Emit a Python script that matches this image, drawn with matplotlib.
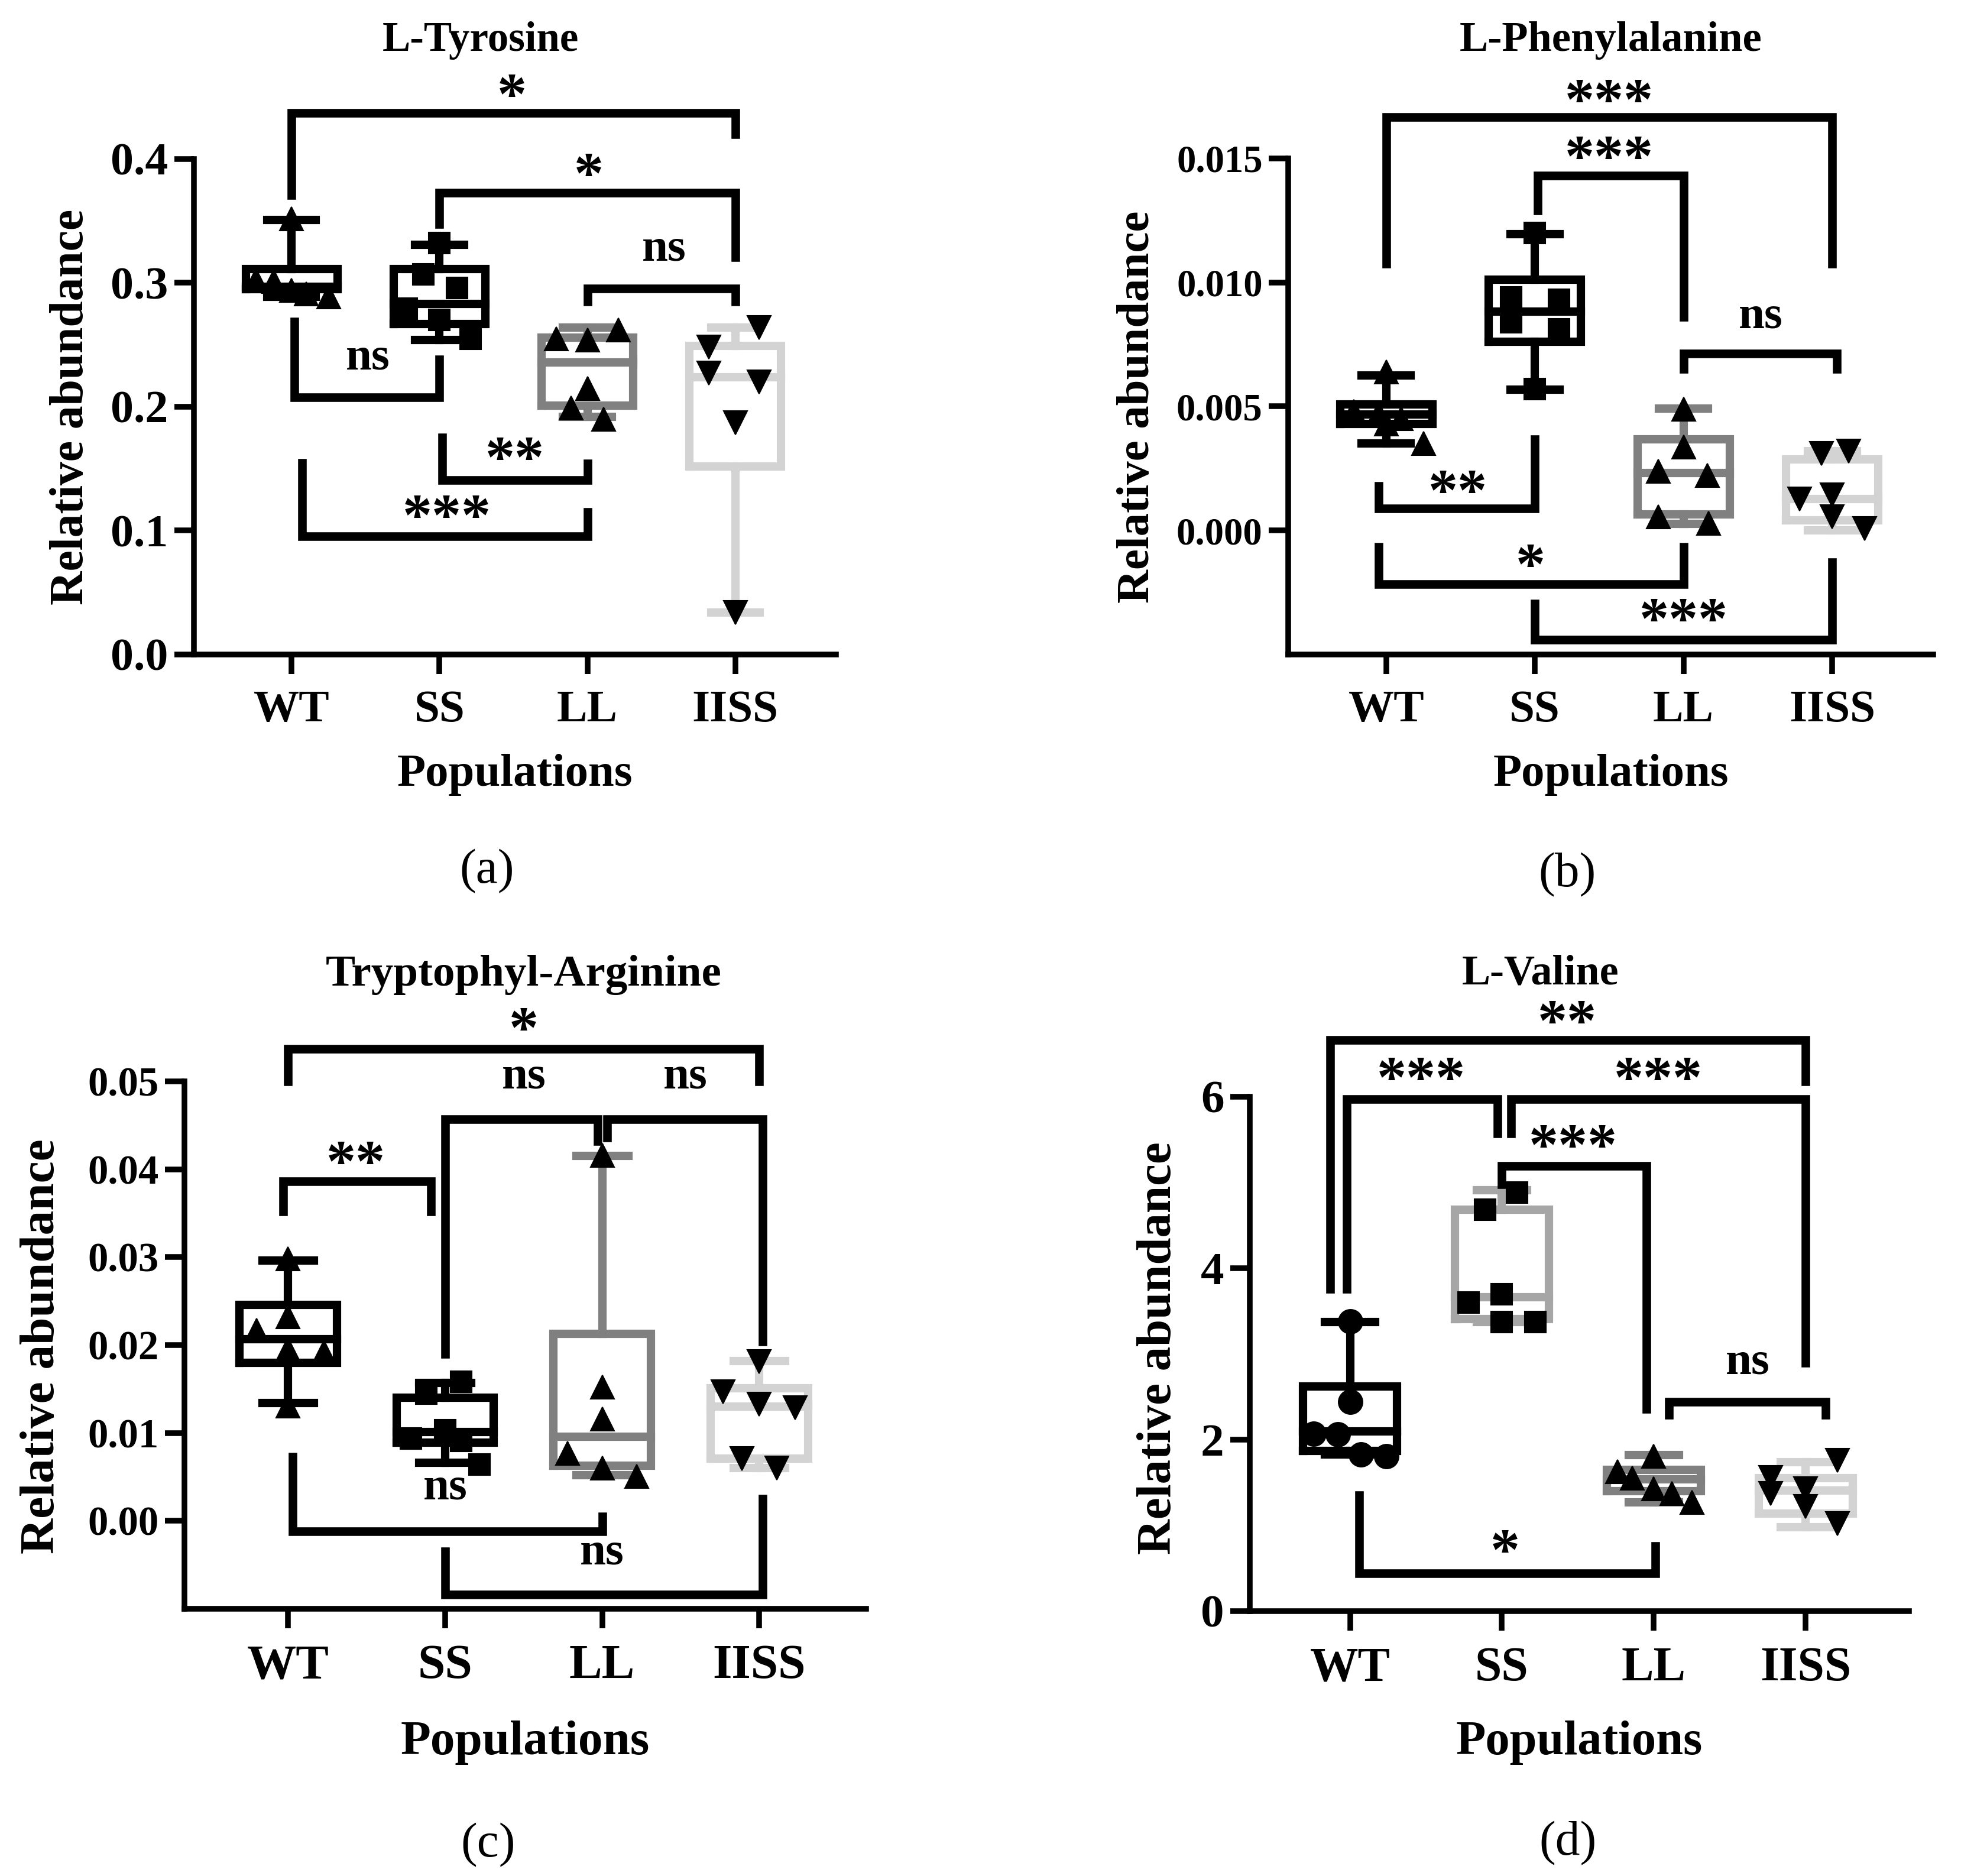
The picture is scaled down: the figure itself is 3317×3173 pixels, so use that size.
import numpy as np
import matplotlib
matplotlib.use("Agg")
import matplotlib.pyplot as plt
from matplotlib.transforms import offset_copy

# =========================
# Data
# =========================
groups = ["WT", "SS", "LL", "IISS"]

# (a) L-Tyrosine
tyr_pts = [
    [0.352, 0.302, 0.301, 0.294, 0.291, 0.289],
    [0.332, 0.307, 0.296, 0.279, 0.270, 0.255],
    [0.262, 0.255, 0.254, 0.215, 0.199, 0.190],
    [0.264, 0.248, 0.227, 0.220, 0.187, 0.034],
]
# min, q1, median, q3, max
tyr_box = [
    [0.289, 0.295, 0.297, 0.311, 0.351],
    [0.254, 0.267, 0.283, 0.311, 0.331],
    [0.192, 0.201, 0.236, 0.256, 0.264],
    [0.034, 0.152, 0.224, 0.249, 0.264],
]

# (b) L-Phenylalanine
phe_pts = [
    [0.0064, 0.0048, 0.0047, 0.0045, 0.0043, 0.0035],
    [0.0120, 0.0094, 0.0093, 0.0084, 0.0081, 0.0057],
    [0.0049, 0.00336, 0.0024, 0.00222, 0.00056, 0.0003],
    [0.0032, 0.0031, 0.00144, 0.00126, 0.00056, 0.00007],
]
phe_box = [
    [0.0035, 0.0043, 0.00468, 0.00508, 0.00626],
    [0.00568, 0.00762, 0.00883, 0.01011, 0.01195],
    [0.00026, 0.00065, 0.00231, 0.00368, 0.00491],
    [0.0, 0.00042, 0.00126, 0.00287, 0.0032],
]

# (c) Tryptophyl-Arginine
trp_pts = [
    [0.0298, 0.0232, 0.0217, 0.0195, 0.0192, 0.0131],
    [0.0158, 0.0145, 0.0103, 0.0094, 0.0091, 0.0064],
    [0.0416, 0.0152, 0.0116, 0.0077, 0.0060, 0.0051],
    [0.0181, 0.0147, 0.0133, 0.0129, 0.0071, 0.0060],
]
trp_box = [
    [0.0134, 0.0180, 0.0207, 0.0246, 0.0296],
    [0.0066, 0.0089, 0.0101, 0.0140, 0.0157],
    [0.0052, 0.0063, 0.0096, 0.0213, 0.0415],
    [0.0060, 0.0071, 0.0130, 0.0151, 0.0182],
]

# (d) L-Valine
val_pts = [
    [3.38, 2.44, 2.07, 2.06, 1.83, 1.81],
    [4.88, 4.68, 3.70, 3.60, 3.37, 3.37],
    [1.81, 1.63, 1.55, 1.43, 1.37, 1.27],
    [1.76, 1.56, 1.43, 1.37, 1.22, 1.02],
]
val_box = [
    [1.83, 1.87, 2.10, 2.62, 3.37],
    [3.37, 3.41, 3.66, 4.68, 4.91],
    [1.27, 1.40, 1.54, 1.65, 1.82],
    [0.98, 1.14, 1.41, 1.55, 1.74],
]

# significance brackets: x_left, x_right, y_bar, y_left_end, y_right_end, label, label_x, label_y
tyr_sig = [
    (0.00, 3.00, 0.437, 0.371, 0.420, "*", 1.49, 0.463),
    (1.00, 3.00, 0.373, 0.3475, 0.321, "*", 2.01, 0.399),
    (2.00, 3.00, 0.2957, 0.285, 0.285, "ns", 2.52, 0.327),
    (0.02, 1.00, 0.2078, 0.2685, 0.238, "ns", 0.515, 0.239),
    (1.02, 2.00, 0.141, 0.175, 0.154, "**", 1.51, 0.170),
    (0.07, 2.00, 0.0954, 0.1546, 0.115, "***", 1.05, 0.123),
]
phe_sig = [
    (0.00, 3.00, 0.01668, 0.01076, 0.01076, "***", 1.50, 0.0179),
    (1.02, 2.00, 0.01432, 0.01291, 0.00862, "***", 1.50, 0.01563),
    (2.00, 3.03, 0.00713, 0.00652, 0.00652, "ns", 2.52, 0.0086),
    (-0.05, 1.00, 0.00088, 0.00179, 0.00368, "**", 0.48, 0.00214),
    (-0.05, 2.00, -0.00216, -0.00067, -0.00067, "*", 0.97, -0.00084),
    (1.00, 3.00, -0.0044, -0.00295, -0.00128, "***", 2.00, -0.00303),
]
trp_sig = [
    (0.00, 3.00, 0.0537, 0.0500, 0.0500, "*", 1.50, 0.0576),
    (1.00, 1.97, 0.0457, 0.0190, 0.0432, "ns", 1.50, 0.0505),
    (2.03, 3.02, 0.0457, 0.0436, 0.0204, "ns", 2.53, 0.0505),
    (-0.03, 0.91, 0.0386, 0.0352, 0.0352, "**", 0.43, 0.0424),
    (0.03, 2.00, -0.0012, 0.0073, 0.0005, "ns", 1.00, 0.0037),
    (1.00, 3.02, -0.0084, -0.00345, 0.0025, "ns", 2.00, -0.0037),
]
val_sig = [
    (-0.13, 3.00, 6.66, 3.76, 6.18, "**", 1.43, 7.04),
    (-0.02, 0.97, 5.97, 3.76, 5.57, "***", 0.47, 6.38),
    (1.06, 3.00, 5.97, 5.57, 2.90, "***", 2.03, 6.38),
    (1.00, 1.95, 5.19, 4.98, 2.36, "***", 1.47, 5.59),
    (2.10, 3.13, 2.44, 2.29, 2.29, "ns", 2.62, 2.90),
    (0.06, 2.01, 0.44, 1.35, 0.76, "*", 1.02, 0.87),
]

# horizontal spread of the dots (category units)
tyr_dx = [[0, -0.24, -0.12, 0.0, 0.10, 0.25],
          [0, -0.11, 0.12, -0.22, 0.0, 0.21],
          [0.21, -0.21, 0.0, 0.0, -0.11, 0.11],
          [0.16, -0.18, -0.18, 0.16, 0.0, 0.0]]
phe_dx = [[0, -0.22, -0.05, 0.10, 0.0, 0.25],
          [0, -0.16, 0.16, -0.16, 0.16, 0],
          [0, 0, -0.17, 0.16, -0.17, 0.17],
          [0.11, -0.07, 0, -0.22, 0, 0.22]]
trp_dx = [[0, 0, -0.20, 0, 0.23, 0],
          [0.10, -0.12, 0, -0.22, 0.10, 0.22],
          [0, 0, 0, -0.22, 0, 0.22],
          [0, -0.23, 0, 0.23, -0.11, 0.11]]
val_dx = [[0, 0, -0.24, -0.08, 0.07, 0.24],
          [0.10, -0.11, 0, -0.22, 0, 0.22],
          [0, -0.24, -0.14, 0, 0.12, 0.25],
          [0.21, -0.23, 0, -0.23, 0, 0.21]]

# =========================
# Style
# =========================
plt.rcParams.update({
    "font.family": ["Liberation Serif", "DejaVu Serif"],
    "font.weight": "bold",
    "axes.linewidth": 2.3,
})

W, H = 3317, 3173
DPI = 300
BOX_LW = 3.4
BR_LW = 3.5
STAR_FS = 24


def fx(px):
    return px / W


def fy(py):
    return 1 - py / H


def draw_panel(ax, pts, box, dx, sig, colors, markers, ylim, yticks, ytl,
               ytick_fs, xtick_fs, ms):
    for i in range(4):
        lo, q1, med, q3, hi = box[i]
        st = dict(whislo=lo, q1=q1, med=med, q3=q3, whishi=hi, fliers=[])
        c = colors[i]
        lp = dict(color=c, lw=BOX_LW, solid_joinstyle="miter", solid_capstyle="projecting")
        ax.bxp([st], positions=[i], widths=0.62, capwidths=0.33, showfliers=False,
               boxprops=lp, whiskerprops=dict(color=c, lw=BOX_LW),
               capprops=dict(color=c, lw=BOX_LW), medianprops=lp,
               manage_ticks=False)
        ax.plot(i + np.array(dx[i]), pts[i], ls="none", marker=markers[i],
                ms=ms[i], color="black", mec="black", mew=0.5, zorder=5, clip_on=False)

    star_tr = offset_copy(ax.transData, fig=ax.figure, y=-0.3 * STAR_FS, units="points")
    for xl, xr, yb, yl, yr, lab, lx, ly in sig:
        ax.plot([xl, xl, xr, xr], [yl, yb, yb, yr], color="black", lw=BR_LW,
                solid_joinstyle="miter", solid_capstyle="projecting",
                clip_on=False, zorder=4)
        if "*" in lab:
            ax.text(lx, ly, lab, ha="center", va="center", fontsize=STAR_FS,
                    fontweight="bold", transform=star_tr)
        else:
            ax.text(lx, ly, lab, ha="center", va="center", fontsize=19,
                    fontweight="bold")

    ax.set_xlim(-0.66, 3.68)
    ax.set_ylim(*ylim)
    ax.set_xticks(range(4))
    ax.set_xticklabels(groups, fontsize=xtick_fs, fontweight="bold")
    ax.set_yticks(yticks)
    ax.set_yticklabels(ytl, fontsize=ytick_fs, fontweight="bold")
    for side in ["top", "right"]:
        ax.spines[side].set_visible(False)
    ax.tick_params(axis="both", direction="out", length=7.9, width=2.3)
    ax.tick_params(axis="x", pad=6.5)
    ax.tick_params(axis="y", pad=2.5)


fig = plt.figure(figsize=(W / DPI, H / DPI), dpi=DPI)

# axes rectangles in pixels: left, top, right, bottom
rects = {
    "a": (328, 269, 1414, 1107),
    "b": (2179, 268, 3270, 1107),
    "c": (312, 1829, 1465, 2721),
    "d": (2114, 1855, 3229, 2725),
}


def add_ax(r):
    l, t, rr, b = r
    return fig.add_axes([fx(l), fy(b), fx(rr - l), (b - t) / H])


ax_a = add_ax(rects["a"])
ax_b = add_ax(rects["b"])
ax_c = add_ax(rects["c"])
ax_d = add_ax(rects["d"])

gray = "#808080"
light = "#D3D3D3"
mid = "#A6A6A6"
tri = ["^", "s", "^", "v"]

draw_panel(ax_a, tyr_pts, tyr_box, tyr_dx, tyr_sig,
           ["black", "black", gray, light], tri,
           (0, 0.4), [0, 0.1, 0.2, 0.3, 0.4], ["0.0", "0.1", "0.2", "0.3", "0.4"],
           18.7, 18.5, [9.6, 8.8, 9.6, 9.6])
draw_panel(ax_b, phe_pts, phe_box, phe_dx, phe_sig,
           ["black", "black", gray, light], tri,
           (-0.005, 0.015), [0, 0.005, 0.010, 0.015], ["0.000", "0.005", "0.010", "0.015"],
           15.5, 18.5, [9.6, 8.8, 9.6, 9.6])
draw_panel(ax_c, trp_pts, trp_box, trp_dx, trp_sig,
           ["black", "black", gray, light], tri,
           (-0.01, 0.05), [0, 0.01, 0.02, 0.03, 0.04, 0.05],
           ["0.00", "0.01", "0.02", "0.03", "0.04", "0.05"],
           16.5, 20, [9.6, 8.8, 9.6, 9.6])
draw_panel(ax_d, val_pts, val_box, val_dx, val_sig,
           ["black", mid, gray, light], ["o", "s", "^", "v"],
           (0, 6), [0, 2, 4, 6], ["0", "2", "4", "6"],
           19, 19.6, [9.8, 8.8, 9.6, 9.6])

# titles
fig.text(fx(813), fy(86), "L-Tyrosine", ha="center", va="baseline", fontsize=17, fontweight="bold")
fig.text(fx(2725), fy(86), "L-Phenylalanine", ha="center", va="baseline", fontsize=17.4, fontweight="bold")
fig.text(fx(886), fy(1667), "Tryptophyl-Arginine", ha="center", va="baseline", fontsize=18, fontweight="bold")
fig.text(fx(2606), fy(1664), "L-Valine", ha="center", va="baseline", fontsize=17.3, fontweight="bold")

# y labels
fig.text(fx(121), fy(688), "Relative abundance", rotation=90, ha="center", va="center", fontsize=19.1, fontweight="bold")
fig.text(fx(1924), fy(688), "Relative abundance", rotation=90, ha="center", va="center", fontsize=18.9, fontweight="bold")
fig.text(fx(71), fy(2277), "Relative abundance", rotation=90, ha="center", va="center", fontsize=20, fontweight="bold")
fig.text(fx(1960), fy(2280), "Relative abundance", rotation=90, ha="center", va="center", fontsize=19.9, fontweight="bold")

# x labels
fig.text(fx((328 + 1414) / 2), fy(1329), "Populations", ha="center", va="baseline", fontsize=18.9, fontweight="bold")
fig.text(fx((2179 + 3270) / 2), fy(1329), "Populations", ha="center", va="baseline", fontsize=18.9, fontweight="bold")
fig.text(fx((312 + 1465) / 2), fy(2967), "Populations", ha="center", va="baseline", fontsize=20, fontweight="bold")
fig.text(fx((2114 + 3229) / 2), fy(2967), "Populations", ha="center", va="baseline", fontsize=19.8, fontweight="bold")

# panel letters
for lab, x, y in [("(a)", 824, 1474), ("(b)", 2651, 1480), ("(c)", 826, 3121), ("(d)", 2652, 3118)]:
    fig.text(fx(x), fy(y), lab, ha="center", va="center", fontsize=20, fontweight="normal")

fig.savefig("out.png", dpi=DPI, facecolor="white")
